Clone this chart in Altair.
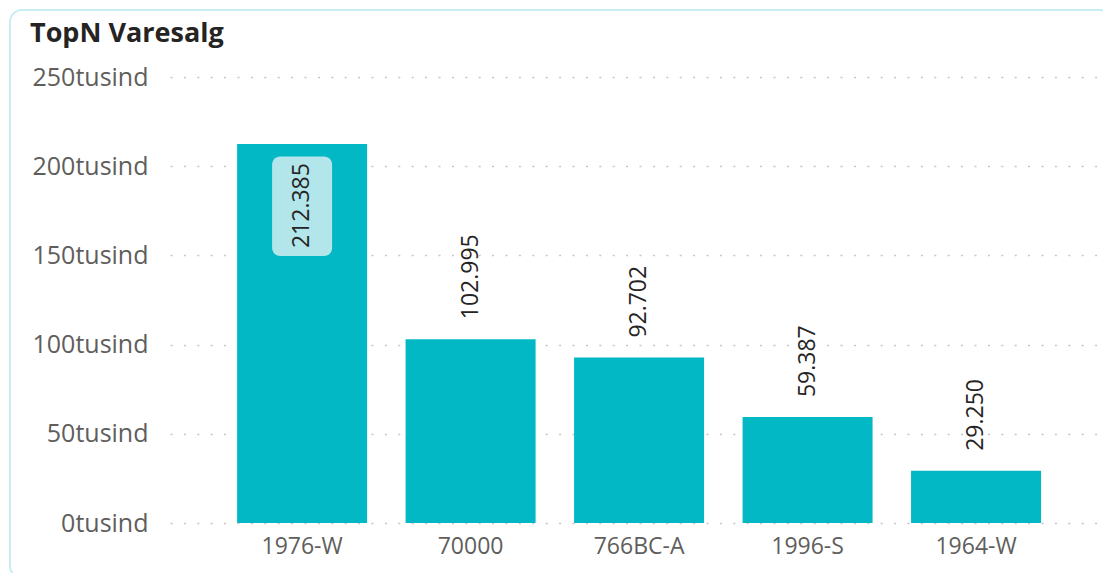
import altair as alt
import pandas as pd

categories = ["1976-W", "70000", "766BC-A", "1996-S", "1964-W"]
values = [212385, 102995, 92702, 59387, 29250]
y_ticks = [0, 50000, 100000, 150000, 200000, 250000]
title_text = "TopN Varesalg"

labels = [f"{v:,}".replace(",", ".") for v in values]
df = pd.DataFrame({"cat": categories, "value": values, "label": labels})

W, H = 933, 446
FONT = "Open Sans"
BAR = "#01B8C4"

x = alt.X(
    "cat:N", sort=categories, title=None,
    scale=alt.Scale(paddingInner=0.2285, paddingOuter=0.383, align=0.52),
    axis=alt.Axis(labelAngle=0, labelFontSize=23, labelColor="#605E5C", labelPadding=12,
                  domain=False, ticks=False, grid=False, labelFont=FONT),
)
y = alt.Y(
    "value:Q", title=None,
    scale=alt.Scale(domain=[0, 250000], nice=False),
    axis=alt.Axis(values=y_ticks, labelExpr="(datum.value/1000) + 'tusind'",
                  domain=False, ticks=False, grid=True, gridDash=[2, 11.4],
                  gridColor="#C8C6C4", gridWidth=1.5, labelFontSize=25, labelColor="#605E5C",
                  labelPadding=22, labelFont=FONT),
)

base = alt.Chart(df)

bars = base.mark_bar(color=BAR).encode(x=x, y=y)

inside = "datum.value > 200000"

box = base.transform_filter(inside).transform_calculate(
    top="datum.value - 7000", bot="datum.value - 62700"
).mark_bar(width=60, cornerRadius=8, color="#B3E6EB").encode(
    x=x, y=alt.Y("top:Q"), y2="bot:Q"
)

text_in = base.transform_filter(inside).mark_text(
    angle=270, align="right", baseline="middle", dx=-19, fontSize=23, font=FONT, color="#252423"
).encode(x=x, y=y, text="label:N")

text_out = base.transform_filter("!(" + inside + ")").mark_text(
    angle=270, align="left", baseline="middle", dx=20, fontSize=23, font=FONT, color="#252423"
).encode(x=x, y=y, text="label:N")

frame = alt.Chart(pd.DataFrame({"a": [0]})).mark_rect(
    filled=False, stroke="#C8EDF2", strokeWidth=2, cornerRadius=12
).encode(x=alt.value(-160), x2=alt.value(W + 9), y=alt.value(-67), y2=alt.value(H + 55))

title = alt.Chart(pd.DataFrame({"t": [title_text]})).mark_text(
    align="left", baseline="alphabetic", font=FONT, fontSize=27, fontWeight="bold", color="#252423"
).encode(x=alt.value(-140), y=alt.value(-35), text="t:N")

chart = alt.layer(frame, bars, box, text_in, text_out, title).properties(
    width=W, height=H,
    padding={"left": 162, "top": 69, "right": 0, "bottom": 50},
    autosize=alt.AutoSizeParams(type="none"),
).configure_view(strokeWidth=0)

chart.save("out.html", embed_options={"renderer": "svg", "actions": False})
